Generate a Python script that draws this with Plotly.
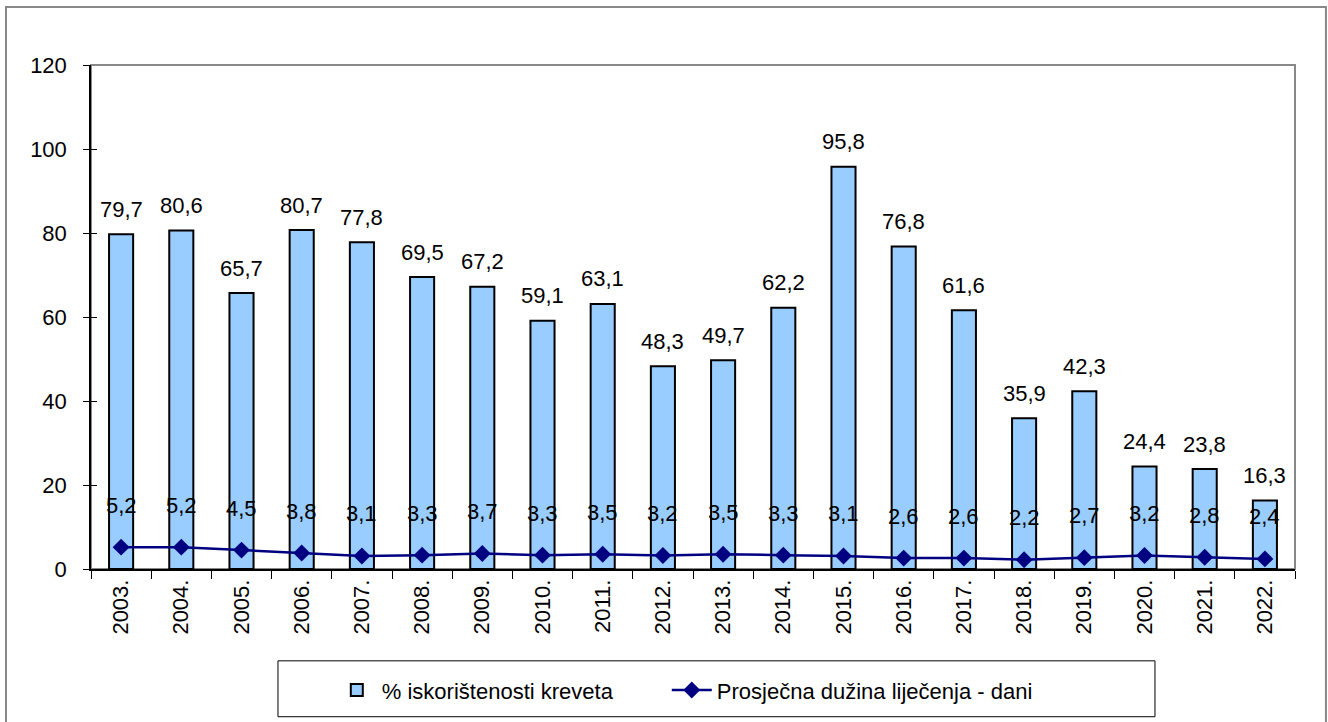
import plotly.graph_objects as go

years = ["2003.", "2004.", "2005.", "2006.", "2007.", "2008.", "2009.", "2010.", "2011.", "2012.",
         "2013.", "2014.", "2015.", "2016.", "2017.", "2018.", "2019.", "2020.", "2021.", "2022."]
occupancy = [79.7, 80.6, 65.7, 80.7, 77.8, 69.5, 67.2, 59.1, 63.1, 48.3,
             49.7, 62.2, 95.8, 76.8, 61.6, 35.9, 42.3, 24.4, 23.8, 16.3]
avg_stay = [5.2, 5.2, 4.5, 3.8, 3.1, 3.3, 3.7, 3.3, 3.5, 3.2,
            3.5, 3.3, 3.1, 2.6, 2.6, 2.2, 2.7, 3.2, 2.8, 2.4]
y_ticks = [0, 20, 40, 60, 80, 100, 120]
series_names = ["% iskorištenosti kreveta", "Prosječna dužina liječenja - dani"]

FONT = "Liberation Sans, Arial, sans-serif"
FS = 22
fmt = lambda v: f"{v:.1f}".replace(".", ",")
PAD = "\u00a0" * 8  # spacing between legend entries

fig = go.Figure()
fig.add_trace(go.Bar(
    x=years, y=occupancy, name=series_names[0] + PAD,
    marker=dict(color="#99CCFF", line=dict(color="black", width=2)),
))
fig.add_trace(go.Scatter(
    x=years, y=avg_stay, name=series_names[1],
    mode="lines+markers",
    line=dict(color="#000080", width=2.5),
    marker=dict(symbol="diamond", size=13, color="#000080"),
))
# invisible helper trace so the overlaid axis (inner half of y ticks) is drawn
fig.add_trace(go.Scatter(x=[years[0]], y=[0], yaxis="y2", mode="markers",
                         marker=dict(opacity=0), showlegend=False, hoverinfo="skip"))

# category axes: annotation x uses the category serial number
annotations = []
for i, v in enumerate(occupancy):
    annotations.append(dict(x=i, y=v, xref="x", yref="y", text=fmt(v), showarrow=False,
                            yanchor="middle", yshift=25,
                            font=dict(family=FONT, size=FS, color="black")))
for i, v in enumerate(avg_stay):
    annotations.append(dict(x=i, y=v, xref="x", yref="y", text=fmt(v), showarrow=False,
                            yanchor="middle", yshift=42,
                            font=dict(family=FONT, size=FS, color="black")))

shapes = [
    dict(type="rect", xref="paper", yref="paper", x0=0, x1=1, y0=0, y1=1,
         line=dict(color="#888888", width=2), layer="below"),
    dict(type="rect", xref="paper", yref="paper", x0=-0.0706, x1=1.0257, y0=-0.33, y1=1.1149,
         line=dict(color="#888888", width=2)),
    dict(type="rect", xref="paper", yref="paper", x0=0.1553, x1=0.8837, y0=-0.2931, y1=-0.1822,
         line=dict(color="black", width=1)),
]

fig.update_layout(
    width=1328, height=722,
    margin=dict(l=91, r=33, t=65, b=152),
    plot_bgcolor="white", paper_bgcolor="white",
    font=dict(family=FONT, size=FS, color="black"),
    showlegend=True,
    legend=dict(orientation="h", x=0.20, xanchor="left", y=-0.238, yanchor="middle",
                font=dict(family=FONT, size=FS), itemwidth=40,
                bgcolor="rgba(0,0,0,0)", traceorder="normal"),
    annotations=annotations,
    shapes=shapes,
    bargap=0.6,
    xaxis=dict(type="category", categoryorder="array", categoryarray=years,
               range=[-0.5, len(years) - 0.5], autorange=False,
               showline=True, linecolor="black", linewidth=1.5,
               ticks="outside", ticklen=8, tickcolor="black", tickson="boundaries",
               tickangle=-90, showgrid=False, tickfont=dict(size=FS), zeroline=False),
    yaxis=dict(range=[0, 120], tickvals=y_ticks, showline=True, linecolor="black", linewidth=1.5,
               ticks="outside", ticklen=6, tickcolor="black", showgrid=False, zeroline=False,
               tickfont=dict(size=FS), ticklabelstandoff=12),
    yaxis2=dict(range=[0, 120], tickvals=y_ticks, overlaying="y", side="left",
                ticks="inside", ticklen=6, tickcolor="black", showticklabels=False,
                showgrid=False, zeroline=False, showline=False),
)

fig.write_html("out.html", post_script="document.body.style.margin='0';",
               config={"displayModeBar": False})
